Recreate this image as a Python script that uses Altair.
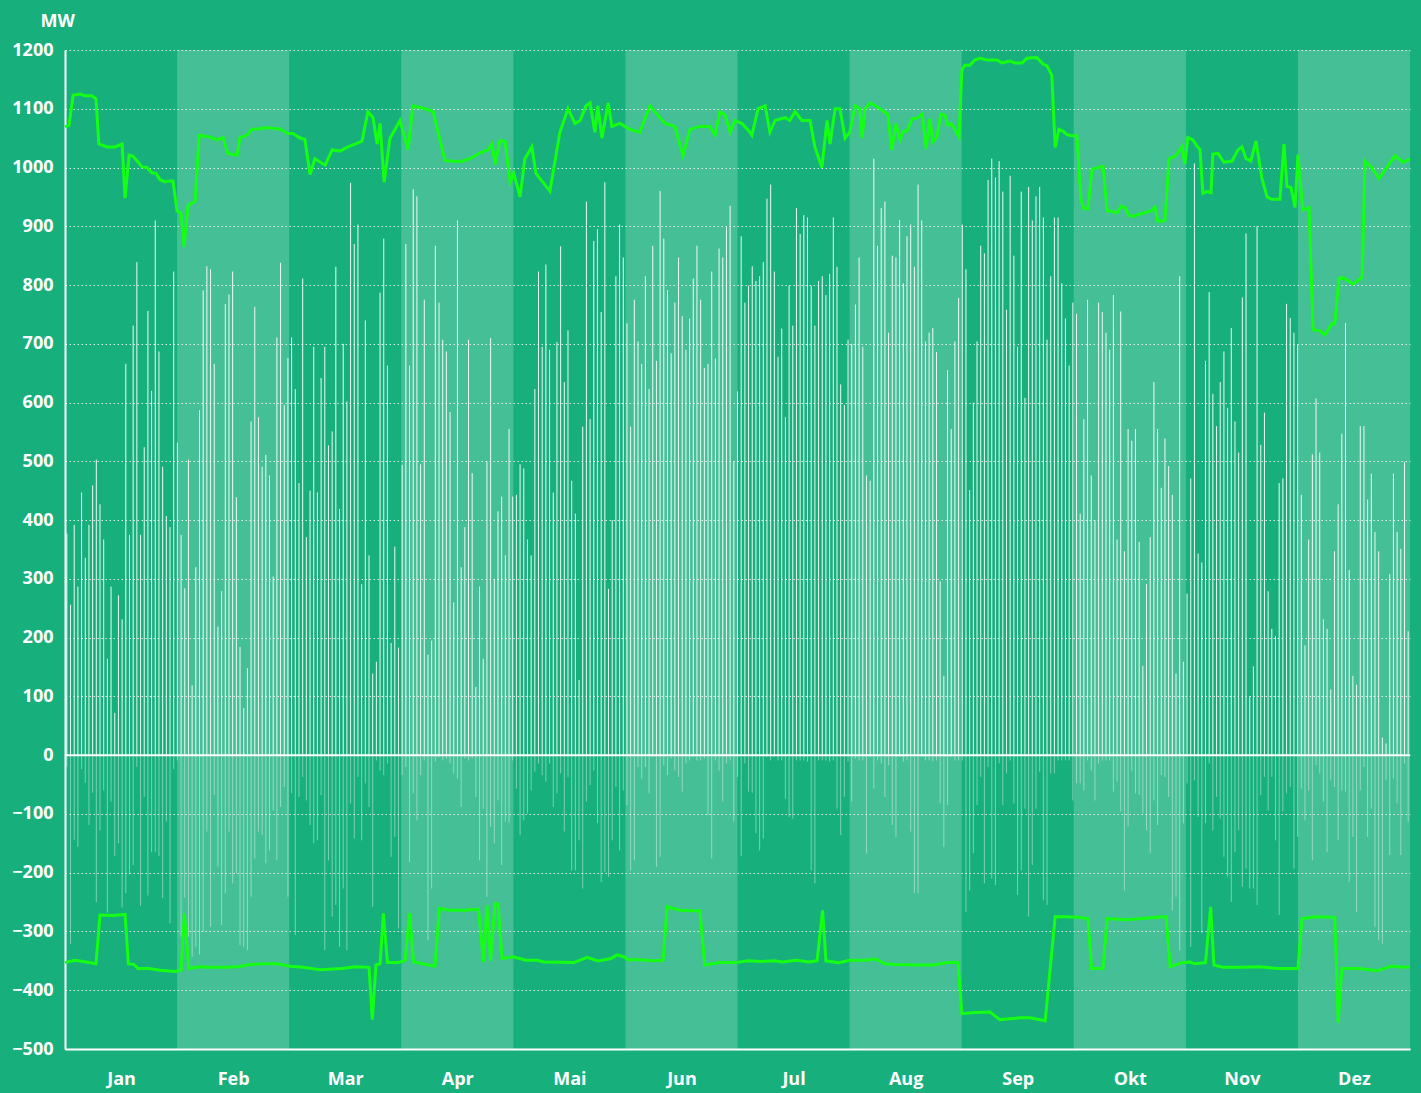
import altair as alt
import pandas as pd

MONTHS = ["Jan", "Feb", "Mar", "Apr", "Mai", "Jun", "Jul", "Aug", "Sep", "Okt", "Nov", "Dez"]
N_DAYS = 365

# daily positive values (MW)
POS = [
    377, 256, 392, 287, 447, 336, 392, 459, 503, 427,
    367, 164, 287, 72, 272, 231, 666, 375, 731, 839,
    375, 524, 756, 620, 910, 687, 491, 407, 388, 823,
    532, 375, 284, 503, 119, 320, 587, 791, 832, 827,
    666, 219, 279, 768, 784, 823, 439, 184, 80, 148,
    568, 763, 575, 491, 511, 476, 304, 711, 838, 596,
    676, 711, 623, 463,
    811, 371, 450, 695, 447, 642, 695, 527, 551, 831,
    419, 700, 602, 974, 870, 903, 291, 740, 340, 139,
    159, 787, 879, 663, 191, 355, 183, 494, 870, 663,
    963, 951, 495, 775, 171, 195, 867, 770, 707, 687,
    584, 260, 910, 320, 388, 707, 480, 116, 287, 164,
    500, 710, 300, 415, 440, 340, 555, 440, 443, 495, 488,
    367, 340, 623, 823, 695, 835, 690, 447, 703, 866,
    635, 723, 467, 411, 128, 559, 942, 572, 875, 895,
    754, 975, 283, 400, 815, 903, 847, 735, 559, 775,
    704, 666, 815, 623, 867, 671, 960, 879, 791, 684,
    770, 847, 747, 690, 743, 811, 867, 775, 659, 666,
    823, 675, 862, 847, 899, 935, 500, 619, 883, 770,
    799, 832,
    807, 815, 839, 947, 971, 823, 678, 726, 575, 799,
    731, 931, 887, 919, 915, 799, 731, 807, 815, 783,
    819, 915, 831, 631, 596, 707, 700, 767, 847, 695,
    476, 467, 1015, 867, 931, 942, 719, 850, 847, 911,
    803, 883, 903, 831, 971, 910, 704, 719, 727, 686,
    296, 135, 655, 555, 704, 778, 903, 827, 451, 600,
    704, 867, 854,
    979, 1015, 983, 1011, 959, 758, 986, 850, 695, 959,
    608, 967, 910, 951, 967, 915, 707, 815, 915, 915,
    803, 743, 663, 770, 751, 411, 572, 775, 476, 400,
    770, 754, 719, 690, 783, 367, 755, 347, 555, 535,
    555, 363, 152, 291, 371, 635, 555, 455, 539, 492,
    443, 139, 815, 159, 275,
    471, 1007, 343, 328, 671, 788, 615, 560, 635, 687,
    591, 727, 568, 515, 779, 888, 100, 151, 900, 528,
    583, 279, 215, 203, 463, 471, 768, 744, 719, 699,
    443, 187, 367, 512, 607, 515, 231, 215, 112, 347,
    427, 547, 735, 315, 135, 120, 560, 560, 435, 479,
    380, 347, 30, 20, 308, 479, 380, 351, 499, 211,
]

# daily negative values (MW)
NEG = [
    -20,
    -321, -144, -156, -24, -47, -119, -64, -250, -128, -60,
    -268, -79, -172, -150, -259, -235, -203, -187, -20, -256,
    -71, -239, -165, -165, -172, -243, -113, -286, -24, -9,
    -309, -243, -309, -343, -326, -339, -301, -130, -292, -68,
    -190, -289, -235, -130, -218, -201, -323, -326, -332, -241,
    -176, -130, -136, -184, -162, -94, -179, -88, -54, -241,
    -65, -306, -71, -37, -77, -119, -150, -145, -68, -332,
    -179, -275, -255, -326, -227, -332, -82, -142, -37, -145,
    -48, -88, -258, -9, -26, -34, -14, -173, -139, -295,
    -34, -20, -182, -65, -111, -34, -9, -315, -227, -11,
    -3, -9, -6, -14, -31, -40, -88, -6, -9, -6,
    -71, -179, -91, -241, -122, -150, -77, -187, -113, -115,
    -9, -57, -136, -111, -99, -60, -28, -14, -34, -45,
    -14, -88, -65, -31, -130, -37, -196, -196, -145, -227,
    -79, -51, -26, -116, -216, -199, -207, -145, -54, -162,
    -60, -85, -196, -179, -20, -40, -20, -65, -3, -190,
    -173, -17, -34, -6, -26, -37, -62, -14, -9, -3,
    -9, -9, -6, -102, -176, -9, -26, -79, -14, -9,
    -113, -37,
    -172, -14, -62, -64, -133, -162, -142, -3, -9, -3,
    -9, -9, -74, -105, -108, -9, -9, -9, -11, -196,
    -218, -9, -9, -9, -11, -9, -91, -136, -71, -11,
    -79, -6, -9, -9, -167, -3, -57, -9, -14, -71,
    -17, -119, -139, -3, -11, -9, -130, -235, -235, -3,
    -9, -9, -11, -9, -82, -156, -85, -3, -9, -9,
    -9, -267, -230, -167, -85, -37, -218, -20, -210, -221,
    -14, -85, -31, -9, -82, -238, -196, -91, -275, -187,
    -91, -28, -247, -255, -31, -31, -9, -9, -9, -9,
    -77, -48, -48, -60, -9, -26, -77, -14, -9, -9,
    -9, -62, -45, -96, -230, -122, -26, -65, -68, -99,
    -128, -167, -77, -119, -34, -37, -71, -264, -241, -332,
    -116, -48, -326, -43, -105, -303, -116, -14, -128, -71,
    -108, -173, -207, -250, -165, -128, -224, -193, -227, -227,
    -255, -68, -37, -94, -37, -145, -272, -96, -65, -54,
    -193, -139, -57, -111, -60, -179, -17, -31, -79, -165,
    -43, -54, -145, -60, -62, -216, -139, -267, -60, -20,
    -139, -91, -292, -315, -321, -43, -170, -40, -82, -170,
    -14, -113,
]

# upper limit line (day position, MW)
UP_DAY = [0, 1.1, 2.2, 4.1, 5.4, 7.3, 8.4, 9.2, 11.4, 13.6, 15.5, 16.3, 17.4, 18.5, 20.9, 22.2, 23.6,
          24.7, 25.8, 27.1, 28.5, 29.3, 30.4, 31.5, 32.3, 33.4, 35.3, 36.4, 39.3, 41.2, 42.9, 44.2,
          46.7, 47.5, 49.4, 50.7, 52.9, 54.8, 57.0, 58.3, 60.5, 61.9, 63.5, 65.1, 66.5, 67.8, 70.6,
          72.5, 74.6, 76.8, 78.7, 80.6, 82.2, 83.6, 84.7, 85.5, 86.6, 88.2, 89.6, 90.9, 93.1, 94.4,
          97.7, 99.9, 103.1, 107.2, 109.9, 112.6, 114.8, 115.9, 116.7, 118.0, 119.4, 120.8, 121.8,
          123.5, 124.8, 126.7, 127.8, 130.3, 131.6, 134.3, 136.5, 138.4, 139.8, 141.4, 142.5, 143.8,
          144.6, 145.7, 147.4, 148.4, 150.6, 153.3, 156.0, 158.7, 160.1, 162.8, 165.5, 167.7, 169.6,
          172.3, 175.0, 176.4, 177.7, 179.1, 180.5, 181.8, 183.7, 185.9, 186.4, 188.1, 190.0, 191.3,
          192.7, 195.4, 196.7, 198.1, 200.0, 202.2, 203.5, 205.4, 206.8, 207.6, 209.0, 210.3, 211.7,
          213.0, 214.4, 215.7, 216.3, 217.1, 218.5, 221.2, 223.3, 224.4, 225.5, 226.6, 227.4, 228.5,
          229.9, 231.2, 232.6, 233.7, 234.7, 235.5, 236.6, 237.7, 238.8, 239.6, 240.7, 242.6, 243.4,
          244.2, 245.6, 246.9, 248.3, 250.2, 252.9, 254.3, 255.6, 256.4, 257.8, 259.7, 261.1, 262.4,
          263.8, 265.4, 266.5, 267.8, 268.7, 269.7, 270.8, 271.9, 273.3, 274.6, 275.7, 276.5, 277.6,
          278.7, 280.3, 281.7, 282.8, 285.5, 286.6, 287.7, 288.7, 289.8, 291.7, 293.4, 294.7, 295.8,
          296.6, 298.5, 299.6, 301.2, 302.0, 303.1, 303.9, 304.7, 306.1, 307.2, 308.0, 308.8, 309.9,
          311.0, 311.5, 312.9, 314.5, 316.7, 318.3, 319.4, 320.5, 321.8, 323.2, 324.8, 326.2, 327.5,
          329.7, 330.8, 331.6, 332.7, 333.8, 334.6, 335.9, 337.6, 338.7, 340.6, 341.9, 343.8, 344.6,
          345.7, 346.8, 349.5, 352.0, 352.8, 354.7, 356.6, 358.8, 360.9, 363.1, 365.0]
UP_VAL = [1069, 1072, 1123, 1125, 1122, 1122, 1117, 1040, 1035, 1035, 1040, 948, 1021, 1019, 1001, 1000, 991,
          990, 979, 976, 977, 977, 926, 923, 865, 936, 942, 1055, 1052, 1047, 1051, 1024,
          1021, 1051, 1055, 1065, 1066, 1068, 1066, 1066, 1058, 1058, 1051, 1048, 988, 1015, 1004,
          1030, 1028, 1035, 1040, 1045, 1095, 1085, 1040, 1075, 975, 1050, 1065, 1080, 1030, 1105,
          1100, 1095, 1012, 1010, 1015, 1025, 1030, 1040, 1005, 1045, 1045, 975, 990,
          950, 1015, 1035, 990, 970, 960, 1060, 1100, 1075, 1080, 1105, 1110, 1060,
          1105, 1050, 1110, 1070, 1075, 1065, 1060, 1105, 1095, 1075, 1070, 1020, 1065,
          1070, 1070, 1055, 1095, 1090, 1060, 1080, 1075, 1060, 1055, 1100, 1105, 1060,
          1080, 1085, 1080, 1095, 1080, 1080, 1035, 1000, 1080, 1040, 1100, 1100, 1050,
          1060, 1105, 1100, 1050, 1100, 1110, 1100, 1090, 1030, 1075, 1047, 1061, 1062,
          1083, 1084, 1091, 1032, 1083, 1044, 1052, 1091, 1089, 1072, 1074, 1052, 1166,
          1174, 1174, 1183, 1186, 1183, 1183, 1178, 1180, 1181, 1178, 1178, 1186, 1187,
          1187, 1176, 1173, 1157, 1034, 1065, 1062, 1056, 1054, 1054, 945, 930, 930,
          997, 1000, 1002, 927, 923, 934, 932, 919, 917, 921, 924, 926, 933,
          908, 910, 1015, 1019, 1025, 1035, 1006, 1051, 1047, 1036, 1031, 956, 959,
          957, 1023, 1024, 1009, 1011, 1030, 1035, 1015, 1011, 1045, 982, 950, 946,
          946, 1040, 968, 966, 932, 1022, 928, 932, 724, 722, 715, 734, 734,
          811, 813, 802, 813, 1011, 999, 981, 1001, 1020, 1009, 1015]

# lower limit line (day position, MW)
LO_DAY = [0, 2.7, 5.7, 8.4, 9.5, 12.8, 16.3, 17.2, 18.7, 19.8, 22.8, 25.8, 29.9, 31.5, 32.4, 33.6, 36.4,
          39.3, 43.4, 46.9, 50.4, 54.0, 57.5, 61.1, 64.6, 69.2, 75.2, 78.7, 82.5, 83.4, 84.4, 85.5,
          86.4, 87.5, 90.4, 92.3, 93.5, 94.6, 98.8, 100.4, 101.6, 104.5, 108.5, 112.2, 113.6, 114.5,
          115.5, 116.7, 117.5, 118.6, 121.6, 125.1, 128.1, 129.9, 138.1, 141.7, 144.6, 148.2, 149.8,
          151.7, 152.8, 156.3, 159.3, 162.3, 163.4, 166.9, 172.3, 173.6, 177.5, 182.1, 185.3, 188.9,
          192.4, 194.8, 198.4, 201.9, 204.1, 205.6, 206.5, 210.0, 213.0, 217.1, 220.1, 222.5, 225.2,
          231.2, 235.8, 239.3, 242.3, 243.4, 246.9, 251.0, 253.7, 259.2, 261.9, 266.0, 268.7, 271.4,
          274.9, 277.6, 278.6, 281.7, 282.8, 287.7, 292.5, 296.1, 298.8, 299.9, 303.1, 305.3, 306.6,
          309.5, 310.9, 311.8, 314.2, 318.9, 324.3, 328.9, 334.6, 335.7, 339.5, 344.6, 345.5, 346.5,
          351.4, 356.0, 360.1, 363.1, 365.0]
LO_VAL = [-353, -349, -352, -355, -272, -273, -271, -355, -356, -363, -363, -366, -368, -366, -269, -363, -360,
          -361, -361, -360, -356, -355, -355, -359, -361, -365, -363, -360, -361, -450, -357, -355,
          -269, -353, -353, -349, -269, -352, -357, -359, -261, -264, -264, -262, -352, -255,
          -350, -253, -253, -346, -343, -349, -349, -352, -353, -344, -350, -346, -340,
          -343, -348, -348, -350, -349, -258, -264, -265, -357, -353, -353, -350, -351,
          -350, -352, -349, -352, -350, -264, -350, -353, -349, -349, -347, -355, -356,
          -357, -357, -353, -353, -440, -438, -437, -450, -447, -447, -452, -275, -275,
          -276, -278, -363, -363, -278, -280, -278, -276, -275, -360, -353, -352, -355,
          -353, -258, -357, -361, -361, -360, -363, -363, -278, -275, -276, -455, -363,
          -363, -367, -359, -361, -360]

BG = "#17b07c"
LINE_COLOR = "#14ff14"
FONT = "Open Sans"

month_len = N_DAYS / 12
pos_df = pd.DataFrame({"d": [i + 0.5 for i in range(len(POS))], "v": POS, "z": 0})
neg_df = pd.DataFrame({"d": [i + 0.5 for i in range(len(NEG))], "v": NEG, "z": 0})
band_df = pd.DataFrame({"x0": [k * month_len for k in range(1, 12, 2)],
                        "x1": [(k + 1) * month_len for k in range(1, 12, 2)]})
up_df = pd.DataFrame({"d": UP_DAY, "v": UP_VAL})
lo_df = pd.DataFrame({"d": LO_DAY, "v": LO_VAL})

xs = alt.Scale(domain=[0, N_DAYS], nice=False, zero=False)
ys = alt.Scale(domain=[-500, 1200], nice=False, zero=False)

month_arr = "[" + ",".join("'%s'" % m for m in MONTHS) + "]"
x_axis = alt.Axis(
    values=[(k + 0.5) * month_len for k in range(12)],
    labelExpr=f"{month_arr}[floor(datum.value / {month_len})]",
    ticks=False, grid=False, domain=True, domainColor="white", domainWidth=2,
    labelColor="white", labelFont=FONT, labelFontWeight="bold", labelFontSize=18,
    labelPadding=21, title=None,
)
y_axis = alt.Axis(
    values=list(range(-500, 1201, 100)), format="d", grid=True, gridColor="white", gridDash=[1.5, 2.5],
    gridOpacity=0.8, gridWidth=1, ticks=False, domain=True, domainColor="white", domainWidth=2,
    labelColor="white", labelFont=FONT, labelFontWeight="bold", labelFontSize=18, labelPadding=12,
    title="MW", titleAngle=0, titleX=-25, titleY=-24, titleAlign="left", titleBaseline="alphabetic",
    titleColor="white", titleFont=FONT, titleFontSize=18, titleFontWeight="bold",
)

bands = alt.Chart(band_df).mark_rect(color="white", opacity=0.2).encode(
    x=alt.X("x0:Q", scale=xs, axis=x_axis), x2="x1:Q",
    y=alt.Y("a:Q", scale=ys, axis=y_axis), y2="b:Q",
).transform_calculate(a="1200", b="-500")

pos_bars = alt.Chart(pos_df).mark_rule(color="white", strokeWidth=1, opacity=0.92).encode(
    x=alt.X("d:Q", scale=xs, axis=x_axis),
    y=alt.Y("z:Q", scale=ys, axis=y_axis), y2="v:Q",
)
neg_bars = alt.Chart(neg_df).mark_rule(color="white", strokeWidth=1, opacity=0.42).encode(
    x=alt.X("d:Q", scale=xs, axis=x_axis),
    y=alt.Y("z:Q", scale=ys, axis=y_axis), y2="v:Q",
)
zero_line = alt.Chart(pd.DataFrame({"v": [0]})).mark_rule(color="white", strokeWidth=2).encode(
    y=alt.Y("v:Q", scale=ys, axis=y_axis),
)
up_line = alt.Chart(up_df).mark_line(color=LINE_COLOR, strokeWidth=3).encode(
    x=alt.X("d:Q", scale=xs, axis=x_axis), y=alt.Y("v:Q", scale=ys, axis=y_axis),
)
lo_line = alt.Chart(lo_df).mark_line(color=LINE_COLOR, strokeWidth=3).encode(
    x=alt.X("d:Q", scale=xs, axis=x_axis), y=alt.Y("v:Q", scale=ys, axis=y_axis),
)

base = alt.layer(bands, pos_bars, neg_bars, zero_line, up_line, lo_line).configure(
    background=BG
).configure_view(stroke=None)

chart = base.properties(
    width=1345, height=999,
    autosize=alt.AutoSizeParams(type="none"),
    padding={"left": 65, "top": 50, "right": 11, "bottom": 44},
)

try:
    import jinja2
    PAGE = jinja2.Template("""<!DOCTYPE html>
<html>
<head>
<meta charset="utf-8">
<style>
html, body { margin: 0; padding: 0; background: """ + BG + """; overflow: hidden; }
</style>
<script type="text/javascript" src="{{ base_url }}/vega@{{ vega_version }}"></script>
<script type="text/javascript" src="{{ base_url }}/vega-lite@{{ vegalite_version }}"></script>
<script type="text/javascript" src="{{ base_url }}/vega-embed@{{ vegaembed_version }}"></script>
</head>
<body>
<div id="{{ output_div }}"></div>
<script type="text/javascript">
vegaEmbed("#{{ output_div }}", {{ spec }}, {{ embed_options }}).catch(function (e) { console.error(e); });
</script>
</body>
</html>""")
    chart.save("out.html", embed_options={"renderer": "svg", "actions": False}, template=PAGE)
except Exception:
    chart = base.properties(
        width=1345, height=999,
        autosize=alt.AutoSizeParams(type="none"),
        padding={"left": 57, "top": 42, "right": 3, "bottom": 36},
    )
    chart.save("out.html", embed_options={"renderer": "svg", "actions": False})
